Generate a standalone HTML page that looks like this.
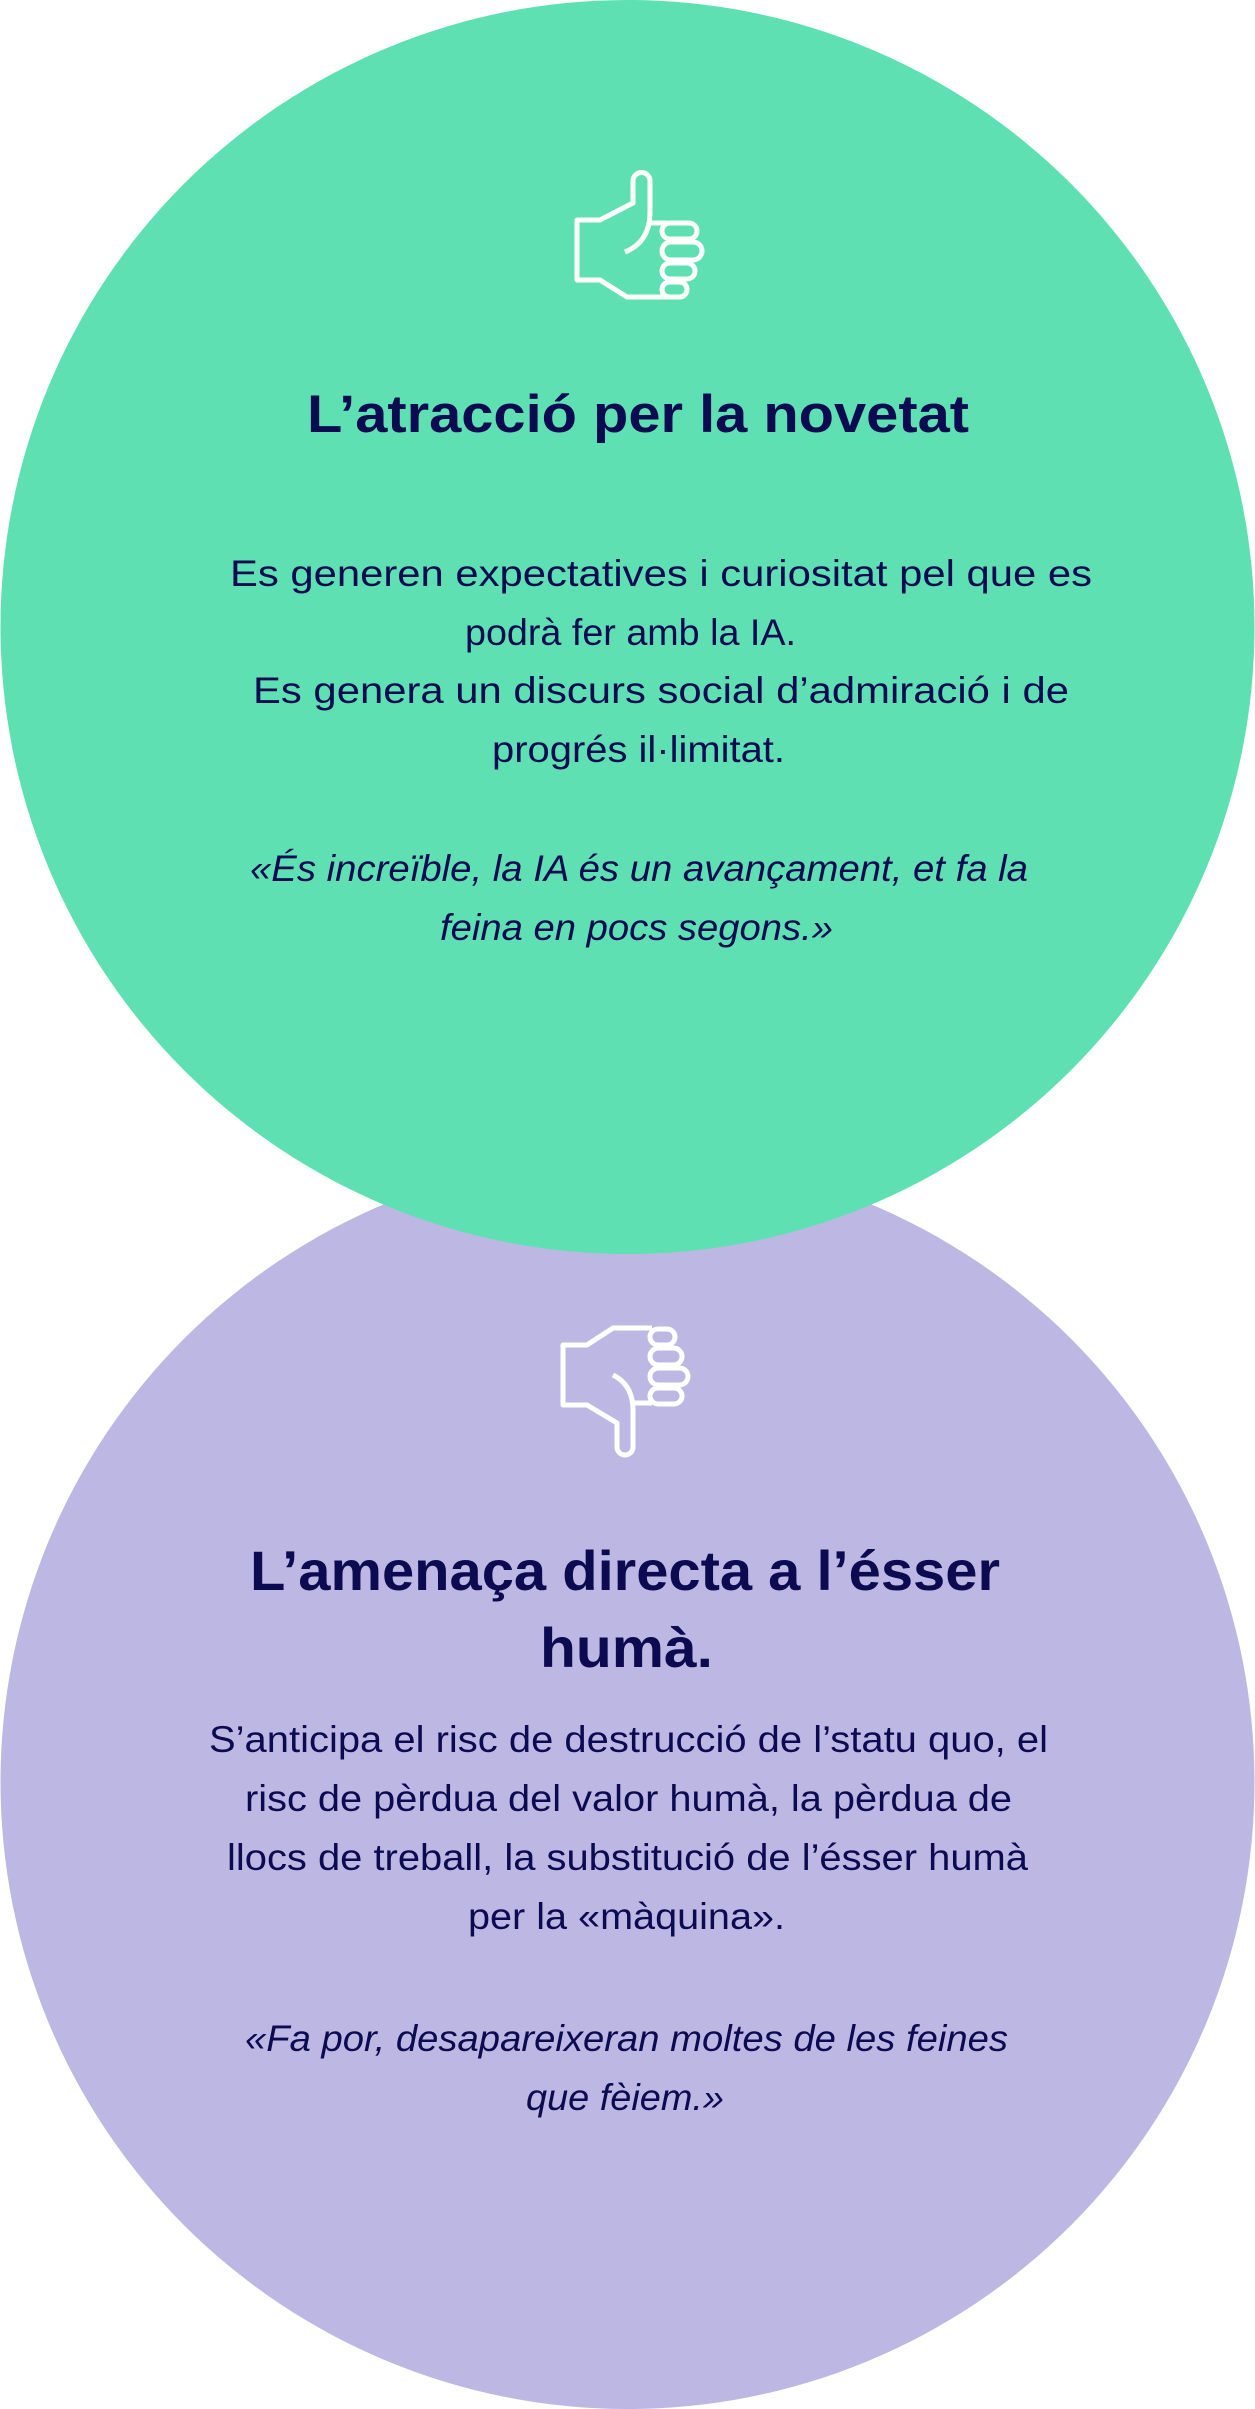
<!DOCTYPE html>
<html><head><meta charset="utf-8">
<style>
html,body{margin:0;padding:0;background:#fff;}
body{width:1255px;height:2409px;position:relative;overflow:hidden;font-family:"Liberation Sans",sans-serif;}
svg{position:absolute;left:0;top:0;}
text{font-family:"Liberation Sans",sans-serif;fill:#0c0b52;}
</style></head><body>
<svg width="1255" height="2409" viewBox="0 0 1255 2409">
<circle cx="627.5" cy="1782" r="627" fill="#bdb8e3"/>
<circle cx="627.5" cy="627" r="627" fill="#5fe0b3"/>
<g fill="none" stroke="#fff" stroke-width="5" stroke-linejoin="round" stroke-linecap="butt">
 <path d="M668,223 H650 M650,181 V212 Q650,242 625,252 M633,181 V203 L600,220 H577 V280 H600 L627,297 H668 M633,181 A8.5,8.5 0 0 1 650,181"/>
 <rect x="662" y="223" width="35" height="16" rx="8"/>
 <rect x="662" y="242" width="40" height="18" rx="9"/>
 <rect x="662" y="263" width="33" height="16" rx="8"/>
 <rect x="662" y="282" width="25" height="15" rx="7.5"/>
</g>
<g fill="none" stroke="#fff" stroke-width="5" stroke-linejoin="round">
 <path d="M652,1328 H613 L587,1345 H563 V1405 H587 L617,1423 V1447 A8,8 0 0 0 633,1447 V1410 Q633,1385 613,1375 M633,1403 H652"/>
 <rect x="650" y="1329" width="25" height="16" rx="8"/>
 <rect x="650" y="1348" width="32" height="17" rx="8.5"/>
 <rect x="650" y="1368" width="38" height="17" rx="8.5"/>
 <rect x="650" y="1388" width="32" height="16" rx="8"/>
</g>
<g>
 <text x="307" y="432" font-size="53" font-weight="bold" textLength="662" lengthAdjust="spacingAndGlyphs">L’atracció per la novetat</text>
 <g font-size="37">
  <text x="230" y="586" textLength="862" lengthAdjust="spacingAndGlyphs">Es generen expectatives i curiositat pel que es</text>
  <text x="465" y="645" textLength="331" lengthAdjust="spacingAndGlyphs">podrà fer amb la IA.</text>
  <text x="253" y="703" textLength="816" lengthAdjust="spacingAndGlyphs">Es genera un discurs social d’admiració i de</text>
  <text x="492" y="762" textLength="293" lengthAdjust="spacingAndGlyphs">progrés il·limitat.</text>
  <text x="250" y="881" font-style="italic" textLength="778" lengthAdjust="spacingAndGlyphs">«És increïble, la IA és un avançament, et fa la</text>
  <text x="440" y="940" font-style="italic" textLength="393" lengthAdjust="spacingAndGlyphs">feina en pocs segons.»</text>
 </g>
 <text x="250" y="1590" font-size="56" font-weight="bold" textLength="750" lengthAdjust="spacingAndGlyphs">L’amenaça directa a l’ésser</text>
 <text x="540" y="1667" font-size="56" font-weight="bold" textLength="173" lengthAdjust="spacingAndGlyphs">humà.</text>
 <g font-size="37">
  <text x="209" y="1752" textLength="839" lengthAdjust="spacingAndGlyphs">S’anticipa el risc de destrucció de l’statu quo, el</text>
  <text x="245" y="1811" textLength="767" lengthAdjust="spacingAndGlyphs">risc de pèrdua del valor humà, la pèrdua de</text>
  <text x="227" y="1870" textLength="801" lengthAdjust="spacingAndGlyphs">llocs de treball, la substitució de l’ésser humà</text>
  <text x="468" y="1929" textLength="317" lengthAdjust="spacingAndGlyphs">per la «màquina».</text>
  <text x="245" y="2051" font-style="italic" textLength="763" lengthAdjust="spacingAndGlyphs">«Fa por, desapareixeran moltes de les feines</text>
  <text x="526" y="2110" font-style="italic" textLength="198" lengthAdjust="spacingAndGlyphs">que fèiem.»</text>
 </g>
</g>
</svg>
</body></html>
